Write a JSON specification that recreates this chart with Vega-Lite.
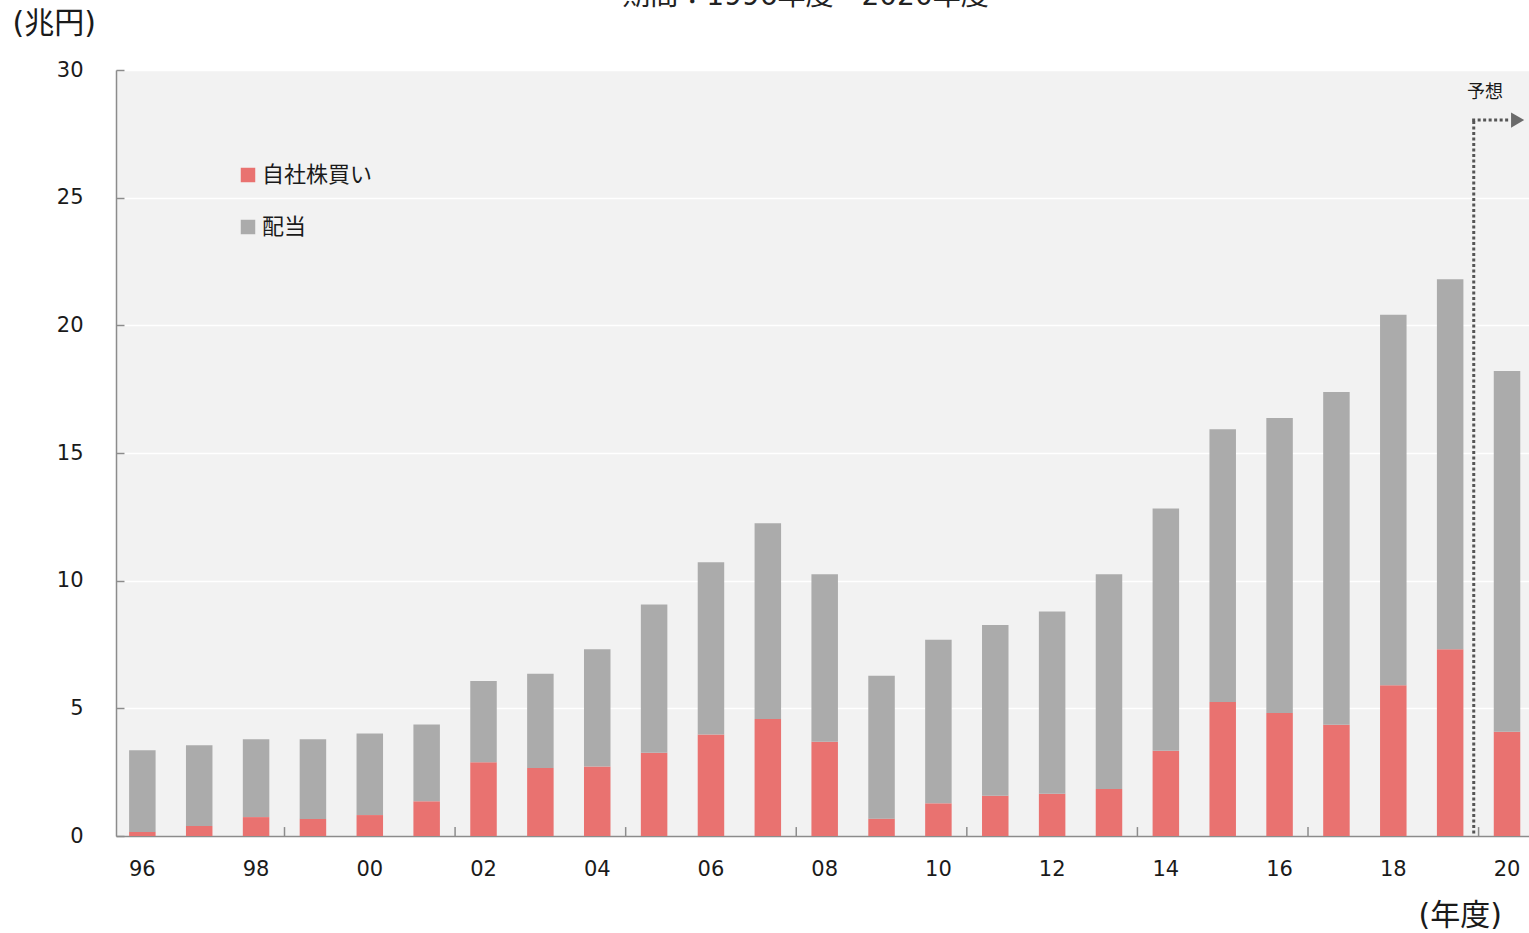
{
  "$schema": "https://vega.github.io/schema/vega-lite/v6.json",
  "width": 1413,
  "height": 766,
  "autosize": "none",
  "padding": {"left": 116, "top": 70, "right": 0, "bottom": 97},
  "background": "white",
  "config": {
    "font": "DejaVu Sans, Noto Sans CJK JP",
    "view": {"fill": "#f2f2f2", "stroke": null}
  },
  "title": {
    "text": "期間：1996年度～2020年度",
    "fontSize": 28,
    "fontWeight": "normal",
    "color": "#222222",
    "anchor": "middle",
    "dx": -17,
    "dy": 3,
    "offset": 0
  },
  "datasets": {
    "flows": [
      {"年度": 1996, "区分": "自社株買い", "兆円": 0.16}, {"年度": 1996, "区分": "配当", "兆円": 3.20},
      {"年度": 1997, "区分": "自社株買い", "兆円": 0.39}, {"年度": 1997, "区分": "配当", "兆円": 3.16},
      {"年度": 1998, "区分": "自社株買い", "兆円": 0.74}, {"年度": 1998, "区分": "配当", "兆円": 3.05},
      {"年度": 1999, "区分": "自社株買い", "兆円": 0.67}, {"年度": 1999, "区分": "配当", "兆円": 3.12},
      {"年度": 2000, "区分": "自社株買い", "兆円": 0.82}, {"年度": 2000, "区分": "配当", "兆円": 3.19},
      {"年度": 2001, "区分": "自社株買い", "兆円": 1.36}, {"年度": 2001, "区分": "配当", "兆円": 3.01},
      {"年度": 2002, "区分": "自社株買い", "兆円": 2.89}, {"年度": 2002, "区分": "配当", "兆円": 3.18},
      {"年度": 2003, "区分": "自社株買い", "兆円": 2.66}, {"年度": 2003, "区分": "配当", "兆円": 3.69},
      {"年度": 2004, "区分": "自社株買い", "兆円": 2.72}, {"年度": 2004, "区分": "配当", "兆円": 4.59},
      {"年度": 2005, "区分": "自社株買い", "兆円": 3.26}, {"年度": 2005, "区分": "配当", "兆円": 5.81},
      {"年度": 2006, "区分": "自社株買い", "兆円": 3.98}, {"年度": 2006, "区分": "配当", "兆円": 6.74},
      {"年度": 2007, "区分": "自社株買い", "兆円": 4.58}, {"年度": 2007, "区分": "配当", "兆円": 7.67},
      {"年度": 2008, "区分": "自社株買い", "兆円": 3.69}, {"年度": 2008, "区分": "配当", "兆円": 6.56},
      {"年度": 2009, "区分": "自社株買い", "兆円": 0.68}, {"年度": 2009, "区分": "配当", "兆円": 5.60},
      {"年度": 2010, "区分": "自社株買い", "兆円": 1.28}, {"年度": 2010, "区分": "配当", "兆円": 6.41},
      {"年度": 2011, "区分": "自社株買い", "兆円": 1.58}, {"年度": 2011, "区分": "配当", "兆円": 6.68},
      {"年度": 2012, "区分": "自社株買い", "兆円": 1.65}, {"年度": 2012, "区分": "配当", "兆円": 7.14},
      {"年度": 2013, "区分": "自社株買い", "兆円": 1.84}, {"年度": 2013, "区分": "配当", "兆円": 8.41},
      {"年度": 2014, "区分": "自社株買い", "兆円": 3.34}, {"年度": 2014, "区分": "配当", "兆円": 9.49},
      {"年度": 2015, "区分": "自社株買い", "兆円": 5.25}, {"年度": 2015, "区分": "配当", "兆円": 10.68},
      {"年度": 2016, "区分": "自社株買い", "兆円": 4.82}, {"年度": 2016, "区分": "配当", "兆円": 11.55},
      {"年度": 2017, "区分": "自社株買い", "兆円": 4.36}, {"年度": 2017, "区分": "配当", "兆円": 13.03},
      {"年度": 2018, "区分": "自社株買い", "兆円": 5.90}, {"年度": 2018, "区分": "配当", "兆円": 14.51},
      {"年度": 2019, "区分": "自社株買い", "兆円": 7.31}, {"年度": 2019, "区分": "配当", "兆円": 14.49},
      {"年度": 2020, "区分": "自社株買い", "兆円": 4.08}, {"年度": 2020, "区分": "配当", "兆円": 14.13}
    ],
    "tickYears": [
      {"年度": 1998}, {"年度": 2001}, {"年度": 2004}, {"年度": 2007},
      {"年度": 2010}, {"年度": 2013}, {"年度": 2016}, {"年度": 2019}
    ]
  },
  "layer": [
    {
      "data": {"name": "flows"},
      "mark": {"type": "bar"},
      "encoding": {
        "x": {
          "field": "年度",
          "type": "ordinal",
          "scale": {"paddingInner": 0.534, "paddingOuter": 0.192, "align": 0.6},
          "axis": {
            "title": "(年度)",
            "titleX": 1302,
            "titleY": 79,
            "titleAlign": "left",
            "titleBaseline": "middle",
            "titleFontSize": 30,
            "titleFontWeight": "normal",
            "titleColor": "#1a1a1a",
            "labelAngle": 0,
            "labelExpr": "datum.value % 2 == 0 ? slice(toString(datum.value), 2) : ''",
            "labelFontSize": 21,
            "labelColor": "#1a1a1a",
            "labelPadding": 22,
            "ticks": false,
            "domainColor": "#8c8c8c",
            "domainWidth": 1.5
          }
        },
        "y": {
          "field": "兆円",
          "type": "quantitative",
          "stack": "zero",
          "scale": {"domain": [0, 30], "nice": false},
          "axis": {
            "values": [0, 5, 10, 15, 20, 25, 30],
            "title": "(兆円)",
            "titleAngle": 0,
            "titleX": -104,
            "titleY": -47,
            "titleAlign": "left",
            "titleBaseline": "middle",
            "titleFontSize": 30,
            "titleFontWeight": "normal",
            "titleColor": "#1a1a1a",
            "labelFontSize": 21,
            "labelColor": "#1a1a1a",
            "labelPadding": 41,
            "gridColor": "#ffffff",
            "gridWidth": 1.5,
            "tickSize": -8,
            "tickColor": "#8c8c8c",
            "tickWidth": 1.5,
            "domainColor": "#8c8c8c",
            "domainWidth": 1.5
          }
        },
        "color": {
          "field": "区分",
          "type": "nominal",
          "scale": {"domain": ["自社株買い", "配当"], "range": ["#e97270", "#ababab"]},
          "legend": {
            "orient": "none",
            "legendX": 121,
            "legendY": 94,
            "direction": "vertical",
            "title": null,
            "symbolType": "square",
            "symbolSize": 210,
            "symbolStrokeWidth": 0,
            "labelFontSize": 22,
            "labelColor": "#1a1a1a",
            "labelOffset": 3,
            "rowPadding": 30,
            "padding": 0
          }
        },
        "order": {"field": "区分", "sort": "ascending"}
      }
    },
    {
      "data": {"name": "tickYears"},
      "mark": {"type": "rule", "color": "#8c8c8c", "strokeWidth": 1.5},
      "encoding": {
        "x": {"field": "年度", "type": "ordinal", "bandPosition": 1.573},
        "y": {"datum": 0},
        "y2": {"datum": 0.35}
      }
    },
    {
      "data": {"values": [{}]},
      "mark": {"type": "rule", "color": "#555555", "strokeWidth": 3, "strokeDash": [3, 2.5]},
      "encoding": {
        "x": {"datum": 2019, "type": "ordinal", "bandPosition": 1.39},
        "y": {"datum": 0.1},
        "y2": {"datum": 28.04}
      }
    },
    {
      "data": {"values": [{}]},
      "mark": {"type": "rule", "color": "#555555", "strokeWidth": 3, "strokeDash": [3, 2.5]},
      "encoding": {
        "x": {"datum": 2019, "type": "ordinal", "bandPosition": 1.33},
        "x2": {"datum": 2020, "bandPosition": 0.62},
        "y": {"datum": 28.04}
      }
    },
    {
      "data": {"values": [{}]},
      "mark": {"type": "point", "shape": "triangle-right", "filled": true, "color": "#6a6a6a", "size": 230, "opacity": 1},
      "encoding": {
        "x": {"datum": 2020, "type": "ordinal", "bandPosition": 0.9},
        "y": {"datum": 28.04}
      }
    },
    {
      "data": {"values": [{"注記": "予想"}]},
      "mark": {"type": "text", "fontSize": 18, "color": "#1a1a1a", "align": "center", "baseline": "middle"},
      "encoding": {
        "x": {"datum": 2020, "type": "ordinal", "bandPosition": -0.33},
        "y": {"datum": 29.1},
        "text": {"field": "注記"}
      }
    }
  ]
}
